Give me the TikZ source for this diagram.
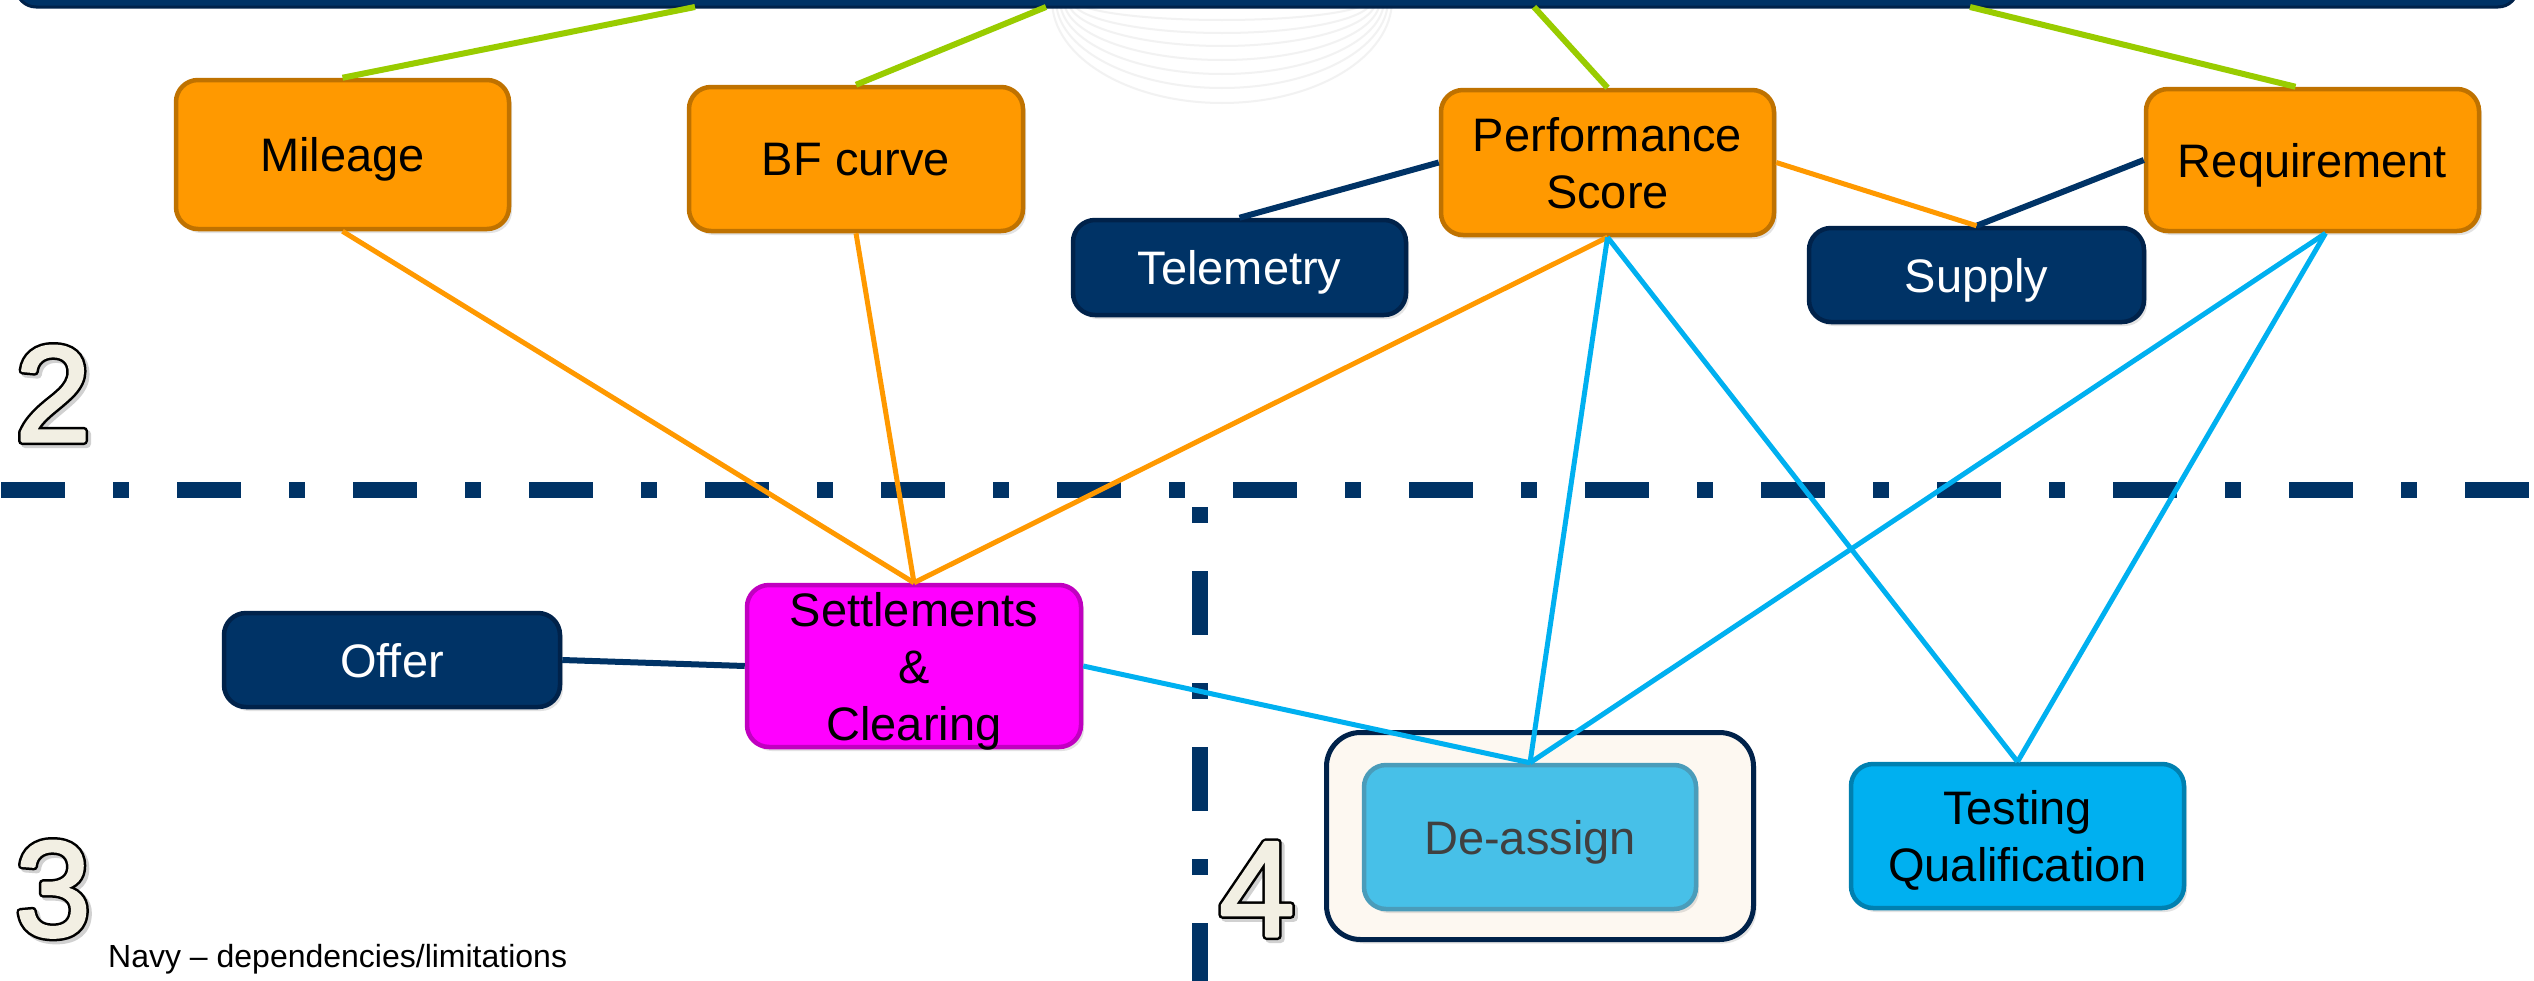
\documentclass[tikz,border=0pt]{standalone}
\usepackage{fontspec}
\setmainfont{Liberation Sans}
\usetikzlibrary{shadows}
\definecolor{navy}{HTML}{003366}
\definecolor{navyd}{HTML}{00224A}
\definecolor{org}{HTML}{FF9900}
\definecolor{orgd}{HTML}{BF7200}
\definecolor{grn}{HTML}{99CC00}
\definecolor{cyanb}{HTML}{00B0F0}
\definecolor{cyand}{HTML}{0080B0}
\definecolor{lblue}{HTML}{47C0E8}
\definecolor{lblued}{HTML}{4A9CBA}
\definecolor{mag}{HTML}{FF00FF}
\definecolor{magd}{HTML}{C000C0}
\definecolor{cream}{HTML}{FDF8F1}
\definecolor{digitc}{HTML}{F2EFE3}
\definecolor{inkc}{HTML}{404040}
\newcommand\digitblack[1]{\special{pdf:literal direct 2 Tr 8 w 1 j 0 0 0 RG}#1\special{pdf:literal direct 0 Tr}}
\newcommand\digitcream[1]{\special{pdf:literal direct 2 Tr 3 w 1 j 0.949 0.937 0.890 RG}#1\special{pdf:literal direct 0 Tr}}
\begin{document}
\begin{tikzpicture}[x=1pt,y=-1pt,
  box/.style={rounded corners=22pt, align=center, inner sep=0pt, line width=4.5pt,
    font=\fontsize{47}{57}\selectfont, text depth=0pt,
    drop shadow={shadow xshift=3pt,shadow yshift=-4pt,opacity=0.22}},
  obox/.style={box, fill=org, draw=orgd},
  nbox/.style={box, fill=navy, draw=navyd, text=white},
  sbox/.style={box, fill=mag, draw=magd},
  dbox/.style={box, fill=lblue, draw=lblued, text=inkc},
  tbox/.style={box, fill=cyanb, draw=cyand},
  framebox/.style={rounded corners=34pt, fill=cream, draw=navyd, line width=5pt,
    drop shadow={shadow xshift=3pt,shadow yshift=-4pt,opacity=0.22}},
  greenln/.style={grn, line width=6pt},
  orgln/.style={org, line width=5pt},
  blueln/.style={cyanb, line width=5pt},
  navyln/.style={navy, line width=6pt},
  divider/.style={navy, line width=16pt, dash pattern=on 64pt off 48pt on 16pt off 48pt},
  digitshadow/.style={anchor=base west, inner sep=0pt, text=black, opacity=0.18,
    font=\fontsize{136}{150}\selectfont},
  digitedge/.style={anchor=base west, inner sep=0pt, text=black,
    font=\fontsize{136}{150}\selectfont},
  digitnode/.style={anchor=base west, inner sep=0pt, text=digitc,
    font=\fontsize{136}{150}\selectfont},
  arcln/.style={black!5, line width=2pt}
]
\useasboundingbox (0,0) rectangle (2534,980);
\fill[white] (0,0) rectangle (2534,980);

% faint watermark arcs
\foreach \b/\r in {103/170,88/166,74/162,60/158,46/154,33/150,20/146}
  \draw[arcln] (1222,0) ellipse [x radius=\r, y radius=\b];

% top bar
\draw[fill=navy, draw=navyd, line width=3pt, rounded corners=20pt] (16,-60) rectangle (2518,7);
\coordinate (b1) at (695,7);
\coordinate (b2) at (1046,7);
\coordinate (b3) at (1534,7);
\coordinate (b4) at (1970,7);

% dividers
\coordinate (hl) at (1,490);
\coordinate (hr) at (2534,490);
\coordinate (vb) at (1200,987);
\coordinate (vt) at (1200,498);
\draw[divider] (hl) -- (hr);
\draw[divider] (vb) -- (vt);

% region digits
\node[digitshadow] (s2) at (18,444) {\digitblack{2}};
\node[digitedge] (e2) at (15,441) {\digitblack{2}};
\node[digitnode] (d2) at (15,441) {\digitcream{2}};
\node[digitshadow] (s3) at (18,939) {\digitblack{3}};
\node[digitedge] (e3) at (15,936) {\digitblack{3}};
\node[digitnode] (d3) at (15,936) {\digitcream{3}};
\node[digitshadow] (s4) at (1222,939) {\digitblack{4}};
\node[digitedge] (e4) at (1219,936) {\digitblack{4}};
\node[digitnode] (d4) at (1219,936) {\digitcream{4}};

\node[anchor=base west, inner sep=0pt, font=\fontsize{32}{36}\selectfont] (note) at (108,967) {Navy -- dependencies/limitations};

% boxes
\node[obox, minimum width=333pt, minimum height=149pt] (mil) at (342.5,154.5) {Mileage};
\node[obox, minimum width=334pt, minimum height=144pt] (bf) at (856,159) {BF curve};
\node[nbox, minimum width=333pt, minimum height=95pt] (tel) at (1239.5,267.5) {Telemetry};
\node[obox, minimum width=333pt, minimum height=145pt] (perf) at (1607.5,162.5) {Performance\\Score};
\node[nbox, minimum width=335pt, minimum height=94pt] (sup) at (1976.5,275) {Supply};
\node[obox, minimum width=333pt, minimum height=142pt] (req) at (2312.5,160) {Requirement};
\node[nbox, minimum width=336pt, minimum height=94pt] (off) at (392,660) {Offer};
\node[sbox, minimum width=334pt, minimum height=162pt] (set) at (914,666) {Settlements\\\&\\Clearing};
\node[framebox, minimum width=427pt, minimum height=207pt] (frame) at (1540,836) {};
\node[dbox, minimum width=332pt, minimum height=144pt] (dea) at (1530,837) {De-assign};
\node[tbox, minimum width=333pt, minimum height=144pt] (tq) at (2017.5,836) {Testing\\Qualification};

% connectors to top bar
\draw[greenln] (mil.north) -- (b1);
\draw[greenln] (bf.north) -- (b2);
\draw[greenln] (perf.north) -- (b3);
\draw[greenln] ([xshift=-17pt]req.north) -- (b4);

% navy dependencies
\draw[navyln] (tel.north) -- (perf.west);
\draw[navyln] (sup.north) -- (req.west);
\draw[navyln] (off.east) -- (set.west);

% orange links
\draw[orgln] (perf.east) -- (sup.north);
\draw[orgln] (mil.south) -- (set.north);
\draw[orgln] (bf.south) -- (set.north);
\draw[orgln] (perf.south) -- (set.north);

% blue links
\draw[blueln] (set.east) -- (dea.north);
\draw[blueln] (perf.south) -- (dea.north);
\draw[blueln] (perf.south) -- (tq.north);
\draw[blueln] ([xshift=13pt]req.south) -- (dea.north);
\draw[blueln] ([xshift=13pt]req.south) -- (tq.north);
\end{tikzpicture}
\end{document}
